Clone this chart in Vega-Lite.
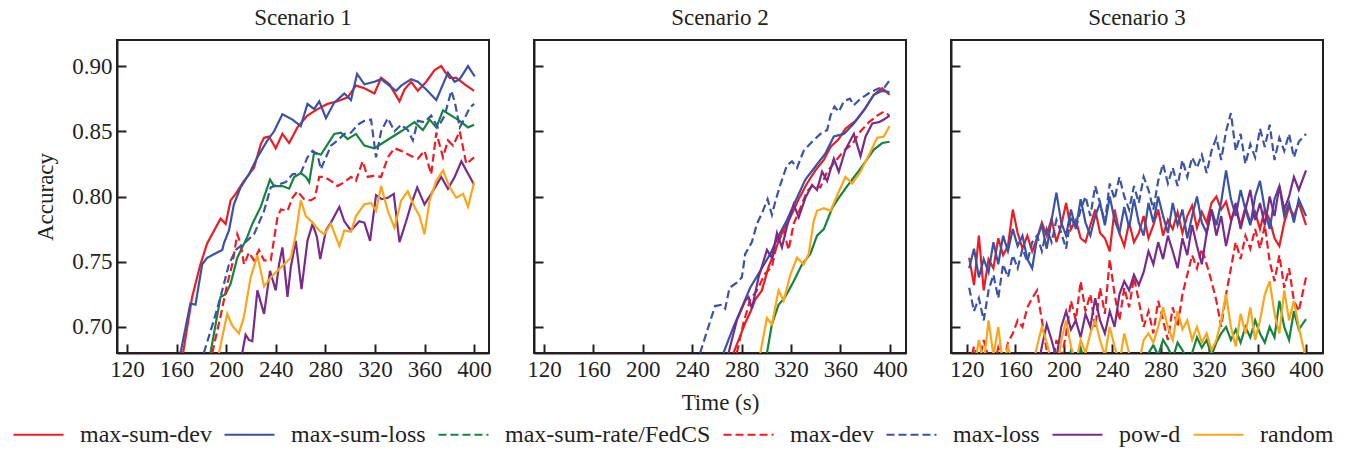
{
"$schema": "https://vega.github.io/schema/vega-lite/v6.json",
"padding": {"left": 12, "top": 6, "right": 0, "bottom": 0},
"background": "white",
"config": {
 "font": "Liberation Serif",
 "view": {"stroke": "#231f20", "strokeWidth": 2},
 "axis": {"grid": false, "domainColor": "#231f20", "domainWidth": 2, "tickColor": "#231f20", "tickWidth": 2, "tickSize": -9, "labelFontSize": 23, "labelColor": "#231f20", "titleFontSize": 23, "titleFontWeight": "normal", "titleColor": "#231f20", "labelOverlap": false, "labelFlush": false},
 "axisX": {"labelPadding": 14, "titlePadding": 10},
 "axisY": {"labelPadding": 14, "titlePadding": 14},
 "title": {"fontSize": 23, "fontWeight": "normal", "color": "#231f20", "offset": 10, "anchor": "middle"},
 "legend": {"labelFontSize": 24, "labelColor": "#231f20", "labelLimit": 0}
},
"datasets": {
 "refs": [{"y": 0.75}, {"y": 0.8}, {"y": 0.85}],
 "p1": [
{"s":"max-sum-dev","t":165.3,"y":0.680},{"s":"max-sum-dev","t":172.6,"y":0.723},{"s":"max-sum-dev","t":179.3,"y":0.748},{"s":"max-sum-dev","t":184.7,"y":0.764},{"s":"max-sum-dev","t":195.5,"y":0.783},{"s":"max-sum-dev","t":199.6,"y":0.779},{"s":"max-sum-dev","t":203.6,"y":0.797},{"s":"max-sum-dev","t":207.7,"y":0.802},{"s":"max-sum-dev","t":214.4,"y":0.812},{"s":"max-sum-dev","t":222.5,"y":0.822},{"s":"max-sum-dev","t":227.9,"y":0.840},{"s":"max-sum-dev","t":230.6,"y":0.845},{"s":"max-sum-dev","t":234.6,"y":0.846},{"s":"max-sum-dev","t":240.0,"y":0.837},{"s":"max-sum-dev","t":245.4,"y":0.848},{"s":"max-sum-dev","t":250.8,"y":0.841},{"s":"max-sum-dev","t":257.5,"y":0.853},{"s":"max-sum-dev","t":265.6,"y":0.862},{"s":"max-sum-dev","t":273.7,"y":0.867},{"s":"max-sum-dev","t":281.8,"y":0.871},{"s":"max-sum-dev","t":289.9,"y":0.873},{"s":"max-sum-dev","t":298.0,"y":0.876},{"s":"max-sum-dev","t":304.7,"y":0.885},{"s":"max-sum-dev","t":311.5,"y":0.883},{"s":"max-sum-dev","t":319.6,"y":0.879},{"s":"max-sum-dev","t":325.0,"y":0.891},{"s":"max-sum-dev","t":331.7,"y":0.886},{"s":"max-sum-dev","t":339.8,"y":0.873},{"s":"max-sum-dev","t":343.8,"y":0.882},{"s":"max-sum-dev","t":349.2,"y":0.888},{"s":"max-sum-dev","t":354.6,"y":0.881},{"s":"max-sum-dev","t":361.4,"y":0.888},{"s":"max-sum-dev","t":368.1,"y":0.897},{"s":"max-sum-dev","t":373.5,"y":0.900},{"s":"max-sum-dev","t":376.2,"y":0.896},{"s":"max-sum-dev","t":380.3,"y":0.891},{"s":"max-sum-dev","t":385.6,"y":0.891},{"s":"max-sum-dev","t":392.4,"y":0.886},{"s":"max-sum-dev","t":400.0,"y":0.881},
{"s":"max-sum-loss","t":163.2,"y":0.680},{"s":"max-sum-loss","t":171.2,"y":0.718},{"s":"max-sum-loss","t":175.3,"y":0.717},{"s":"max-sum-loss","t":180.7,"y":0.748},{"s":"max-sum-loss","t":184.7,"y":0.753},{"s":"max-sum-loss","t":192.8,"y":0.757},{"s":"max-sum-loss","t":196.9,"y":0.759},{"s":"max-sum-loss","t":198.2,"y":0.764},{"s":"max-sum-loss","t":202.3,"y":0.774},{"s":"max-sum-loss","t":206.3,"y":0.794},{"s":"max-sum-loss","t":211.7,"y":0.807},{"s":"max-sum-loss","t":218.4,"y":0.817},{"s":"max-sum-loss","t":225.2,"y":0.830},{"s":"max-sum-loss","t":233.3,"y":0.843},{"s":"max-sum-loss","t":238.7,"y":0.850},{"s":"max-sum-loss","t":245.4,"y":0.863},{"s":"max-sum-loss","t":253.5,"y":0.859},{"s":"max-sum-loss","t":260.2,"y":0.854},{"s":"max-sum-loss","t":265.6,"y":0.871},{"s":"max-sum-loss","t":271.0,"y":0.867},{"s":"max-sum-loss","t":275.1,"y":0.873},{"s":"max-sum-loss","t":280.5,"y":0.860},{"s":"max-sum-loss","t":287.2,"y":0.872},{"s":"max-sum-loss","t":295.3,"y":0.879},{"s":"max-sum-loss","t":300.7,"y":0.874},{"s":"max-sum-loss","t":305.6,"y":0.894},{"s":"max-sum-loss","t":311.5,"y":0.886},{"s":"max-sum-loss","t":319.6,"y":0.888},{"s":"max-sum-loss","t":325.0,"y":0.890},{"s":"max-sum-loss","t":330.4,"y":0.886},{"s":"max-sum-loss","t":337.1,"y":0.881},{"s":"max-sum-loss","t":341.2,"y":0.885},{"s":"max-sum-loss","t":349.2,"y":0.890},{"s":"max-sum-loss","t":354.6,"y":0.888},{"s":"max-sum-loss","t":361.4,"y":0.882},{"s":"max-sum-loss","t":369.5,"y":0.874},{"s":"max-sum-loss","t":378.9,"y":0.895},{"s":"max-sum-loss","t":384.3,"y":0.888},{"s":"max-sum-loss","t":388.4,"y":0.890},{"s":"max-sum-loss","t":395.1,"y":0.900},{"s":"max-sum-loss","t":400.5,"y":0.892},
{"s":"max-sum-rate/FedCS","t":187.4,"y":0.680},{"s":"max-sum-rate/FedCS","t":195.5,"y":0.723},{"s":"max-sum-rate/FedCS","t":199.6,"y":0.725},{"s":"max-sum-rate/FedCS","t":203.6,"y":0.733},{"s":"max-sum-rate/FedCS","t":209.0,"y":0.753},{"s":"max-sum-rate/FedCS","t":213.0,"y":0.761},{"s":"max-sum-rate/FedCS","t":217.1,"y":0.769},{"s":"max-sum-rate/FedCS","t":221.1,"y":0.779},{"s":"max-sum-rate/FedCS","t":227.9,"y":0.792},{"s":"max-sum-rate/FedCS","t":235.4,"y":0.813},{"s":"max-sum-rate/FedCS","t":238.7,"y":0.808},{"s":"max-sum-rate/FedCS","t":245.4,"y":0.808},{"s":"max-sum-rate/FedCS","t":250.8,"y":0.806},{"s":"max-sum-rate/FedCS","t":254.9,"y":0.815},{"s":"max-sum-rate/FedCS","t":260.2,"y":0.818},{"s":"max-sum-rate/FedCS","t":264.3,"y":0.815},{"s":"max-sum-rate/FedCS","t":267.0,"y":0.811},{"s":"max-sum-rate/FedCS","t":271.0,"y":0.834},{"s":"max-sum-rate/FedCS","t":276.4,"y":0.832},{"s":"max-sum-rate/FedCS","t":281.8,"y":0.840},{"s":"max-sum-rate/FedCS","t":287.2,"y":0.848},{"s":"max-sum-rate/FedCS","t":292.6,"y":0.849},{"s":"max-sum-rate/FedCS","t":298.0,"y":0.844},{"s":"max-sum-rate/FedCS","t":304.7,"y":0.848},{"s":"max-sum-rate/FedCS","t":311.5,"y":0.839},{"s":"max-sum-rate/FedCS","t":319.6,"y":0.837},{"s":"max-sum-rate/FedCS","t":341.2,"y":0.850},{"s":"max-sum-rate/FedCS","t":351.9,"y":0.857},{"s":"max-sum-rate/FedCS","t":358.7,"y":0.851},{"s":"max-sum-rate/FedCS","t":364.1,"y":0.859},{"s":"max-sum-rate/FedCS","t":369.5,"y":0.853},{"s":"max-sum-rate/FedCS","t":374.9,"y":0.866},{"s":"max-sum-rate/FedCS","t":381.6,"y":0.862},{"s":"max-sum-rate/FedCS","t":388.4,"y":0.858},{"s":"max-sum-rate/FedCS","t":395.1,"y":0.853},{"s":"max-sum-rate/FedCS","t":400.0,"y":0.855},
{"s":"max-dev","t":188.8,"y":0.680},{"s":"max-dev","t":195.5,"y":0.708},{"s":"max-dev","t":200.9,"y":0.733},{"s":"max-dev","t":205.0,"y":0.748},{"s":"max-dev","t":209.0,"y":0.771},{"s":"max-dev","t":211.7,"y":0.764},{"s":"max-dev","t":214.4,"y":0.748},{"s":"max-dev","t":218.4,"y":0.757},{"s":"max-dev","t":222.5,"y":0.751},{"s":"max-dev","t":226.5,"y":0.759},{"s":"max-dev","t":230.6,"y":0.751},{"s":"max-dev","t":236.0,"y":0.751},{"s":"max-dev","t":241.4,"y":0.784},{"s":"max-dev","t":244.1,"y":0.790},{"s":"max-dev","t":249.5,"y":0.789},{"s":"max-dev","t":253.5,"y":0.799},{"s":"max-dev","t":257.5,"y":0.804},{"s":"max-dev","t":262.9,"y":0.798},{"s":"max-dev","t":268.3,"y":0.797},{"s":"max-dev","t":271.6,"y":0.799},{"s":"max-dev","t":275.1,"y":0.815},{"s":"max-dev","t":279.1,"y":0.815},{"s":"max-dev","t":284.5,"y":0.812},{"s":"max-dev","t":289.9,"y":0.808},{"s":"max-dev","t":295.3,"y":0.811},{"s":"max-dev","t":300.7,"y":0.815},{"s":"max-dev","t":304.7,"y":0.812},{"s":"max-dev","t":310.1,"y":0.827},{"s":"max-dev","t":314.2,"y":0.815},{"s":"max-dev","t":319.6,"y":0.816},{"s":"max-dev","t":325.0,"y":0.815},{"s":"max-dev","t":330.4,"y":0.830},{"s":"max-dev","t":335.8,"y":0.837},{"s":"max-dev","t":341.2,"y":0.835},{"s":"max-dev","t":349.2,"y":0.831},{"s":"max-dev","t":354.6,"y":0.829},{"s":"max-dev","t":360.0,"y":0.835},{"s":"max-dev","t":365.4,"y":0.817},{"s":"max-dev","t":369.5,"y":0.849},{"s":"max-dev","t":374.9,"y":0.830},{"s":"max-dev","t":378.9,"y":0.843},{"s":"max-dev","t":383.0,"y":0.839},{"s":"max-dev","t":388.4,"y":0.850},{"s":"max-dev","t":393.7,"y":0.825},{"s":"max-dev","t":400.0,"y":0.830},
{"s":"max-loss","t":182.0,"y":0.680},{"s":"max-loss","t":190.1,"y":0.705},{"s":"max-loss","t":195.5,"y":0.723},{"s":"max-loss","t":202.3,"y":0.748},{"s":"max-loss","t":207.7,"y":0.759},{"s":"max-loss","t":214.4,"y":0.764},{"s":"max-loss","t":222.5,"y":0.771},{"s":"max-loss","t":230.6,"y":0.789},{"s":"max-loss","t":236.0,"y":0.807},{"s":"max-loss","t":241.4,"y":0.809},{"s":"max-loss","t":248.1,"y":0.811},{"s":"max-loss","t":253.5,"y":0.817},{"s":"max-loss","t":260.2,"y":0.818},{"s":"max-loss","t":265.6,"y":0.830},{"s":"max-loss","t":269.7,"y":0.835},{"s":"max-loss","t":273.7,"y":0.832},{"s":"max-loss","t":276.4,"y":0.821},{"s":"max-loss","t":280.5,"y":0.830},{"s":"max-loss","t":284.5,"y":0.839},{"s":"max-loss","t":289.9,"y":0.843},{"s":"max-loss","t":295.3,"y":0.848},{"s":"max-loss","t":300.7,"y":0.849},{"s":"max-loss","t":306.1,"y":0.855},{"s":"max-loss","t":311.5,"y":0.858},{"s":"max-loss","t":316.9,"y":0.859},{"s":"max-loss","t":320.9,"y":0.830},{"s":"max-loss","t":325.0,"y":0.850},{"s":"max-loss","t":330.4,"y":0.860},{"s":"max-loss","t":335.8,"y":0.850},{"s":"max-loss","t":341.2,"y":0.855},{"s":"max-loss","t":346.5,"y":0.851},{"s":"max-loss","t":350.6,"y":0.843},{"s":"max-loss","t":354.6,"y":0.858},{"s":"max-loss","t":360.0,"y":0.857},{"s":"max-loss","t":365.4,"y":0.862},{"s":"max-loss","t":370.8,"y":0.853},{"s":"max-loss","t":376.2,"y":0.862},{"s":"max-loss","t":381.6,"y":0.881},{"s":"max-loss","t":384.3,"y":0.873},{"s":"max-loss","t":388.4,"y":0.853},{"s":"max-loss","t":392.4,"y":0.860},{"s":"max-loss","t":396.4,"y":0.868},{"s":"max-loss","t":400.0,"y":0.871},
{"s":"pow-d","t":213.0,"y":0.680},{"s":"pow-d","t":215.7,"y":0.694},{"s":"pow-d","t":218.4,"y":0.690},{"s":"pow-d","t":221.1,"y":0.689},{"s":"pow-d","t":225.2,"y":0.728},{"s":"pow-d","t":230.6,"y":0.710},{"s":"pow-d","t":235.4,"y":0.743},{"s":"pow-d","t":240.0,"y":0.728},{"s":"pow-d","t":242.7,"y":0.748},{"s":"pow-d","t":245.4,"y":0.761},{"s":"pow-d","t":249.5,"y":0.723},{"s":"pow-d","t":252.2,"y":0.746},{"s":"pow-d","t":256.2,"y":0.766},{"s":"pow-d","t":260.8,"y":0.729},{"s":"pow-d","t":265.6,"y":0.766},{"s":"pow-d","t":269.7,"y":0.779},{"s":"pow-d","t":273.2,"y":0.769},{"s":"pow-d","t":275.9,"y":0.752},{"s":"pow-d","t":280.5,"y":0.774},{"s":"pow-d","t":284.5,"y":0.780},{"s":"pow-d","t":291.3,"y":0.792},{"s":"pow-d","t":295.3,"y":0.781},{"s":"pow-d","t":300.7,"y":0.774},{"s":"pow-d","t":307.4,"y":0.781},{"s":"pow-d","t":311.5,"y":0.780},{"s":"pow-d","t":316.1,"y":0.766},{"s":"pow-d","t":320.9,"y":0.801},{"s":"pow-d","t":325.5,"y":0.798},{"s":"pow-d","t":330.4,"y":0.799},{"s":"pow-d","t":335.2,"y":0.802},{"s":"pow-d","t":339.8,"y":0.765},{"s":"pow-d","t":345.2,"y":0.781},{"s":"pow-d","t":349.2,"y":0.794},{"s":"pow-d","t":354.1,"y":0.807},{"s":"pow-d","t":360.0,"y":0.794},{"s":"pow-d","t":365.4,"y":0.802},{"s":"pow-d","t":373.5,"y":0.815},{"s":"pow-d","t":378.9,"y":0.806},{"s":"pow-d","t":384.3,"y":0.815},{"s":"pow-d","t":389.7,"y":0.827},{"s":"pow-d","t":393.7,"y":0.820},{"s":"pow-d","t":400.0,"y":0.809},
{"s":"random","t":194.2,"y":0.680},{"s":"random","t":200.9,"y":0.710},{"s":"random","t":205.0,"y":0.701},{"s":"random","t":210.3,"y":0.695},{"s":"random","t":214.4,"y":0.708},{"s":"random","t":219.8,"y":0.738},{"s":"random","t":225.2,"y":0.755},{"s":"random","t":230.6,"y":0.731},{"s":"random","t":236.0,"y":0.738},{"s":"random","t":241.4,"y":0.743},{"s":"random","t":246.8,"y":0.748},{"s":"random","t":252.2,"y":0.753},{"s":"random","t":256.2,"y":0.771},{"s":"random","t":260.2,"y":0.797},{"s":"random","t":264.3,"y":0.785},{"s":"random","t":269.7,"y":0.780},{"s":"random","t":275.1,"y":0.774},{"s":"random","t":279.1,"y":0.771},{"s":"random","t":284.5,"y":0.779},{"s":"random","t":291.3,"y":0.762},{"s":"random","t":295.3,"y":0.774},{"s":"random","t":300.7,"y":0.773},{"s":"random","t":304.7,"y":0.785},{"s":"random","t":311.5,"y":0.794},{"s":"random","t":316.9,"y":0.795},{"s":"random","t":320.9,"y":0.789},{"s":"random","t":325.0,"y":0.808},{"s":"random","t":330.4,"y":0.789},{"s":"random","t":335.8,"y":0.776},{"s":"random","t":341.2,"y":0.797},{"s":"random","t":346.5,"y":0.804},{"s":"random","t":351.9,"y":0.792},{"s":"random","t":356.0,"y":0.785},{"s":"random","t":360.0,"y":0.771},{"s":"random","t":364.1,"y":0.797},{"s":"random","t":369.5,"y":0.812},{"s":"random","t":374.9,"y":0.820},{"s":"random","t":380.3,"y":0.807},{"s":"random","t":385.6,"y":0.799},{"s":"random","t":391.1,"y":0.802},{"s":"random","t":395.1,"y":0.792},{"s":"random","t":400.0,"y":0.811}
 ],
 "p2": [
{"s":"max-sum-dev","t":273.4,"y":0.680},{"s":"max-sum-dev","t":278.8,"y":0.693},{"s":"max-sum-dev","t":282.9,"y":0.703},{"s":"max-sum-dev","t":286.9,"y":0.711},{"s":"max-sum-dev","t":291.0,"y":0.721},{"s":"max-sum-dev","t":296.4,"y":0.728},{"s":"max-sum-dev","t":301.8,"y":0.746},{"s":"max-sum-dev","t":307.2,"y":0.759},{"s":"max-sum-dev","t":312.6,"y":0.772},{"s":"max-sum-dev","t":319.4,"y":0.784},{"s":"max-sum-dev","t":326.2,"y":0.798},{"s":"max-sum-dev","t":332.9,"y":0.810},{"s":"max-sum-dev","t":339.7,"y":0.820},{"s":"max-sum-dev","t":346.5,"y":0.828},{"s":"max-sum-dev","t":351.9,"y":0.838},{"s":"max-sum-dev","t":358.6,"y":0.844},{"s":"max-sum-dev","t":364.0,"y":0.852},{"s":"max-sum-dev","t":372.1,"y":0.858},{"s":"max-sum-dev","t":380.3,"y":0.868},{"s":"max-sum-dev","t":387.0,"y":0.878},{"s":"max-sum-dev","t":393.8,"y":0.883},{"s":"max-sum-dev","t":399.7,"y":0.878},
{"s":"max-sum-loss","t":265.3,"y":0.680},{"s":"max-sum-loss","t":273.4,"y":0.700},{"s":"max-sum-loss","t":280.2,"y":0.715},{"s":"max-sum-loss","t":286.9,"y":0.730},{"s":"max-sum-loss","t":295.1,"y":0.743},{"s":"max-sum-loss","t":303.2,"y":0.756},{"s":"max-sum-loss","t":309.9,"y":0.770},{"s":"max-sum-loss","t":316.7,"y":0.782},{"s":"max-sum-loss","t":324.8,"y":0.799},{"s":"max-sum-loss","t":331.6,"y":0.813},{"s":"max-sum-loss","t":339.7,"y":0.823},{"s":"max-sum-loss","t":347.8,"y":0.833},{"s":"max-sum-loss","t":354.6,"y":0.846},{"s":"max-sum-loss","t":362.7,"y":0.848},{"s":"max-sum-loss","t":370.8,"y":0.856},{"s":"max-sum-loss","t":378.9,"y":0.866},{"s":"max-sum-loss","t":387.0,"y":0.878},{"s":"max-sum-loss","t":393.8,"y":0.881},{"s":"max-sum-loss","t":399.7,"y":0.880},
{"s":"max-sum-rate/FedCS","t":300.5,"y":0.680},{"s":"max-sum-rate/FedCS","t":304.5,"y":0.702},{"s":"max-sum-rate/FedCS","t":309.9,"y":0.717},{"s":"max-sum-rate/FedCS","t":315.3,"y":0.723},{"s":"max-sum-rate/FedCS","t":322.1,"y":0.735},{"s":"max-sum-rate/FedCS","t":328.9,"y":0.748},{"s":"max-sum-rate/FedCS","t":335.6,"y":0.756},{"s":"max-sum-rate/FedCS","t":341.0,"y":0.770},{"s":"max-sum-rate/FedCS","t":346.5,"y":0.775},{"s":"max-sum-rate/FedCS","t":353.2,"y":0.791},{"s":"max-sum-rate/FedCS","t":358.6,"y":0.799},{"s":"max-sum-rate/FedCS","t":365.4,"y":0.808},{"s":"max-sum-rate/FedCS","t":373.5,"y":0.818},{"s":"max-sum-rate/FedCS","t":380.3,"y":0.827},{"s":"max-sum-rate/FedCS","t":387.0,"y":0.836},{"s":"max-sum-rate/FedCS","t":393.8,"y":0.841},{"s":"max-sum-rate/FedCS","t":399.7,"y":0.842},
{"s":"max-dev","t":276.1,"y":0.680},{"s":"max-dev","t":281.5,"y":0.703},{"s":"max-dev","t":286.9,"y":0.721},{"s":"max-dev","t":292.4,"y":0.728},{"s":"max-dev","t":299.1,"y":0.741},{"s":"max-dev","t":304.5,"y":0.746},{"s":"max-dev","t":308.6,"y":0.764},{"s":"max-dev","t":314.0,"y":0.774},{"s":"max-dev","t":318.0,"y":0.759},{"s":"max-dev","t":322.1,"y":0.779},{"s":"max-dev","t":327.5,"y":0.791},{"s":"max-dev","t":332.9,"y":0.804},{"s":"max-dev","t":338.3,"y":0.809},{"s":"max-dev","t":343.7,"y":0.807},{"s":"max-dev","t":349.2,"y":0.819},{"s":"max-dev","t":355.9,"y":0.827},{"s":"max-dev","t":362.7,"y":0.835},{"s":"max-dev","t":369.4,"y":0.840},{"s":"max-dev","t":376.2,"y":0.850},{"s":"max-dev","t":383.0,"y":0.857},{"s":"max-dev","t":389.7,"y":0.862},{"s":"max-dev","t":395.1,"y":0.865},{"s":"max-dev","t":399.7,"y":0.862},
{"s":"max-loss","t":246.4,"y":0.680},{"s":"max-loss","t":253.1,"y":0.700},{"s":"max-loss","t":258.5,"y":0.716},{"s":"max-loss","t":264.0,"y":0.717},{"s":"max-loss","t":266.7,"y":0.714},{"s":"max-loss","t":270.2,"y":0.730},{"s":"max-loss","t":276.1,"y":0.734},{"s":"max-loss","t":280.2,"y":0.738},{"s":"max-loss","t":282.9,"y":0.756},{"s":"max-loss","t":288.3,"y":0.765},{"s":"max-loss","t":292.4,"y":0.779},{"s":"max-loss","t":296.4,"y":0.787},{"s":"max-loss","t":301.0,"y":0.798},{"s":"max-loss","t":304.5,"y":0.786},{"s":"max-loss","t":307.2,"y":0.796},{"s":"max-loss","t":311.3,"y":0.809},{"s":"max-loss","t":316.7,"y":0.824},{"s":"max-loss","t":320.8,"y":0.827},{"s":"max-loss","t":324.8,"y":0.822},{"s":"max-loss","t":330.2,"y":0.835},{"s":"max-loss","t":337.0,"y":0.842},{"s":"max-loss","t":343.8,"y":0.848},{"s":"max-loss","t":349.2,"y":0.851},{"s":"max-loss","t":351.9,"y":0.862},{"s":"max-loss","t":355.1,"y":0.869},{"s":"max-loss","t":358.6,"y":0.865},{"s":"max-loss","t":362.7,"y":0.873},{"s":"max-loss","t":367.6,"y":0.875},{"s":"max-loss","t":370.8,"y":0.870},{"s":"max-loss","t":376.2,"y":0.875},{"s":"max-loss","t":384.3,"y":0.880},{"s":"max-loss","t":391.1,"y":0.883},{"s":"max-loss","t":395.1,"y":0.883},{"s":"max-loss","t":399.7,"y":0.889},
{"s":"pow-d","t":269.4,"y":0.680},{"s":"pow-d","t":276.1,"y":0.705},{"s":"pow-d","t":282.9,"y":0.720},{"s":"pow-d","t":285.6,"y":0.723},{"s":"pow-d","t":288.3,"y":0.714},{"s":"pow-d","t":293.7,"y":0.738},{"s":"pow-d","t":300.5,"y":0.759},{"s":"pow-d","t":304.5,"y":0.753},{"s":"pow-d","t":308.6,"y":0.772},{"s":"pow-d","t":312.6,"y":0.761},{"s":"pow-d","t":316.7,"y":0.777},{"s":"pow-d","t":322.1,"y":0.794},{"s":"pow-d","t":326.2,"y":0.784},{"s":"pow-d","t":331.6,"y":0.799},{"s":"pow-d","t":337.0,"y":0.809},{"s":"pow-d","t":341.0,"y":0.805},{"s":"pow-d","t":345.1,"y":0.819},{"s":"pow-d","t":349.2,"y":0.812},{"s":"pow-d","t":354.6,"y":0.829},{"s":"pow-d","t":358.6,"y":0.819},{"s":"pow-d","t":364.0,"y":0.836},{"s":"pow-d","t":370.8,"y":0.848},{"s":"pow-d","t":376.2,"y":0.831},{"s":"pow-d","t":380.3,"y":0.846},{"s":"pow-d","t":385.7,"y":0.856},{"s":"pow-d","t":391.1,"y":0.857},{"s":"pow-d","t":395.1,"y":0.859},{"s":"pow-d","t":399.7,"y":0.862},
{"s":"random","t":295.1,"y":0.680},{"s":"random","t":300.5,"y":0.707},{"s":"random","t":304.5,"y":0.702},{"s":"random","t":309.9,"y":0.728},{"s":"random","t":314.0,"y":0.720},{"s":"random","t":319.4,"y":0.740},{"s":"random","t":324.8,"y":0.753},{"s":"random","t":330.2,"y":0.748},{"s":"random","t":334.3,"y":0.756},{"s":"random","t":338.3,"y":0.781},{"s":"random","t":341.0,"y":0.789},{"s":"random","t":346.5,"y":0.791},{"s":"random","t":351.9,"y":0.789},{"s":"random","t":357.3,"y":0.801},{"s":"random","t":364.0,"y":0.815},{"s":"random","t":369.4,"y":0.810},{"s":"random","t":376.2,"y":0.819},{"s":"random","t":383.0,"y":0.832},{"s":"random","t":389.7,"y":0.845},{"s":"random","t":395.1,"y":0.846},{"s":"random","t":399.7,"y":0.854}
 ],
 "p3": [
{"s":"max-sum-dev","t":122,"y":0.753},{"s":"max-sum-dev","t":126,"y":0.732},{"s":"max-sum-dev","t":130,"y":0.770},{"s":"max-sum-dev","t":134,"y":0.728},{"s":"max-sum-dev","t":138,"y":0.752},{"s":"max-sum-dev","t":142,"y":0.745},{"s":"max-sum-dev","t":146,"y":0.768},{"s":"max-sum-dev","t":150,"y":0.755},{"s":"max-sum-dev","t":154,"y":0.762},{"s":"max-sum-dev","t":158,"y":0.790},{"s":"max-sum-dev","t":162,"y":0.772},{"s":"max-sum-dev","t":166,"y":0.760},{"s":"max-sum-dev","t":170,"y":0.770},{"s":"max-sum-dev","t":174,"y":0.758},{"s":"max-sum-dev","t":178,"y":0.768},{"s":"max-sum-dev","t":182,"y":0.780},{"s":"max-sum-dev","t":186,"y":0.770},{"s":"max-sum-dev","t":190,"y":0.783},{"s":"max-sum-dev","t":194,"y":0.765},{"s":"max-sum-dev","t":198,"y":0.778},{"s":"max-sum-dev","t":202,"y":0.795},{"s":"max-sum-dev","t":206,"y":0.775},{"s":"max-sum-dev","t":210,"y":0.782},{"s":"max-sum-dev","t":214,"y":0.768},{"s":"max-sum-dev","t":218,"y":0.765},{"s":"max-sum-dev","t":222,"y":0.778},{"s":"max-sum-dev","t":226,"y":0.790},{"s":"max-sum-dev","t":230,"y":0.772},{"s":"max-sum-dev","t":234,"y":0.768},{"s":"max-sum-dev","t":238,"y":0.758},{"s":"max-sum-dev","t":242,"y":0.790},{"s":"max-sum-dev","t":246,"y":0.772},{"s":"max-sum-dev","t":250,"y":0.762},{"s":"max-sum-dev","t":254,"y":0.780},{"s":"max-sum-dev","t":258,"y":0.765},{"s":"max-sum-dev","t":262,"y":0.772},{"s":"max-sum-dev","t":266,"y":0.785},{"s":"max-sum-dev","t":270,"y":0.768},{"s":"max-sum-dev","t":274,"y":0.778},{"s":"max-sum-dev","t":278,"y":0.790},{"s":"max-sum-dev","t":282,"y":0.770},{"s":"max-sum-dev","t":286,"y":0.782},{"s":"max-sum-dev","t":290,"y":0.775},{"s":"max-sum-dev","t":294,"y":0.788},{"s":"max-sum-dev","t":298,"y":0.772},{"s":"max-sum-dev","t":302,"y":0.785},{"s":"max-sum-dev","t":306,"y":0.793},{"s":"max-sum-dev","t":310,"y":0.776},{"s":"max-sum-dev","t":314,"y":0.788},{"s":"max-sum-dev","t":318,"y":0.780},{"s":"max-sum-dev","t":322,"y":0.795},{"s":"max-sum-dev","t":326,"y":0.800},{"s":"max-sum-dev","t":330,"y":0.790},{"s":"max-sum-dev","t":334,"y":0.796},{"s":"max-sum-dev","t":338,"y":0.782},{"s":"max-sum-dev","t":342,"y":0.790},{"s":"max-sum-dev","t":346,"y":0.778},{"s":"max-sum-dev","t":350,"y":0.792},{"s":"max-sum-dev","t":354,"y":0.780},{"s":"max-sum-dev","t":358,"y":0.788},{"s":"max-sum-dev","t":362,"y":0.775},{"s":"max-sum-dev","t":366,"y":0.790},{"s":"max-sum-dev","t":370,"y":0.782},{"s":"max-sum-dev","t":374,"y":0.768},{"s":"max-sum-dev","t":378,"y":0.762},{"s":"max-sum-dev","t":382,"y":0.780},{"s":"max-sum-dev","t":386,"y":0.792},{"s":"max-sum-dev","t":390,"y":0.785},{"s":"max-sum-dev","t":394,"y":0.795},{"s":"max-sum-dev","t":400,"y":0.778},
{"s":"max-sum-loss","t":122,"y":0.745},{"s":"max-sum-loss","t":126,"y":0.760},{"s":"max-sum-loss","t":130,"y":0.738},{"s":"max-sum-loss","t":134,"y":0.752},{"s":"max-sum-loss","t":138,"y":0.742},{"s":"max-sum-loss","t":142,"y":0.765},{"s":"max-sum-loss","t":146,"y":0.748},{"s":"max-sum-loss","t":150,"y":0.770},{"s":"max-sum-loss","t":154,"y":0.758},{"s":"max-sum-loss","t":158,"y":0.775},{"s":"max-sum-loss","t":162,"y":0.762},{"s":"max-sum-loss","t":166,"y":0.770},{"s":"max-sum-loss","t":170,"y":0.752},{"s":"max-sum-loss","t":174,"y":0.745},{"s":"max-sum-loss","t":178,"y":0.768},{"s":"max-sum-loss","t":182,"y":0.778},{"s":"max-sum-loss","t":186,"y":0.760},{"s":"max-sum-loss","t":190,"y":0.782},{"s":"max-sum-loss","t":194,"y":0.803},{"s":"max-sum-loss","t":198,"y":0.780},{"s":"max-sum-loss","t":202,"y":0.770},{"s":"max-sum-loss","t":206,"y":0.790},{"s":"max-sum-loss","t":210,"y":0.775},{"s":"max-sum-loss","t":214,"y":0.798},{"s":"max-sum-loss","t":218,"y":0.780},{"s":"max-sum-loss","t":222,"y":0.770},{"s":"max-sum-loss","t":226,"y":0.785},{"s":"max-sum-loss","t":230,"y":0.795},{"s":"max-sum-loss","t":234,"y":0.778},{"s":"max-sum-loss","t":238,"y":0.800},{"s":"max-sum-loss","t":242,"y":0.782},{"s":"max-sum-loss","t":246,"y":0.772},{"s":"max-sum-loss","t":250,"y":0.792},{"s":"max-sum-loss","t":254,"y":0.776},{"s":"max-sum-loss","t":258,"y":0.798},{"s":"max-sum-loss","t":262,"y":0.780},{"s":"max-sum-loss","t":266,"y":0.770},{"s":"max-sum-loss","t":270,"y":0.795},{"s":"max-sum-loss","t":274,"y":0.780},{"s":"max-sum-loss","t":278,"y":0.800},{"s":"max-sum-loss","t":282,"y":0.785},{"s":"max-sum-loss","t":286,"y":0.772},{"s":"max-sum-loss","t":290,"y":0.795},{"s":"max-sum-loss","t":294,"y":0.778},{"s":"max-sum-loss","t":298,"y":0.790},{"s":"max-sum-loss","t":302,"y":0.768},{"s":"max-sum-loss","t":306,"y":0.785},{"s":"max-sum-loss","t":310,"y":0.800},{"s":"max-sum-loss","t":314,"y":0.780},{"s":"max-sum-loss","t":318,"y":0.772},{"s":"max-sum-loss","t":322,"y":0.790},{"s":"max-sum-loss","t":326,"y":0.778},{"s":"max-sum-loss","t":330,"y":0.796},{"s":"max-sum-loss","t":334,"y":0.820},{"s":"max-sum-loss","t":338,"y":0.798},{"s":"max-sum-loss","t":342,"y":0.785},{"s":"max-sum-loss","t":346,"y":0.805},{"s":"max-sum-loss","t":350,"y":0.790},{"s":"max-sum-loss","t":354,"y":0.778},{"s":"max-sum-loss","t":358,"y":0.800},{"s":"max-sum-loss","t":362,"y":0.812},{"s":"max-sum-loss","t":366,"y":0.790},{"s":"max-sum-loss","t":370,"y":0.775},{"s":"max-sum-loss","t":374,"y":0.798},{"s":"max-sum-loss","t":378,"y":0.808},{"s":"max-sum-loss","t":382,"y":0.785},{"s":"max-sum-loss","t":386,"y":0.795},{"s":"max-sum-loss","t":390,"y":0.780},{"s":"max-sum-loss","t":394,"y":0.798},{"s":"max-sum-loss","t":400,"y":0.785},
{"s":"max-sum-rate/FedCS","t":190,"y":0.665},{"s":"max-sum-rate/FedCS","t":194,"y":0.660},{"s":"max-sum-rate/FedCS","t":198,"y":0.670},{"s":"max-sum-rate/FedCS","t":202,"y":0.665},{"s":"max-sum-rate/FedCS","t":206,"y":0.682},{"s":"max-sum-rate/FedCS","t":210,"y":0.672},{"s":"max-sum-rate/FedCS","t":214,"y":0.684},{"s":"max-sum-rate/FedCS","t":218,"y":0.670},{"s":"max-sum-rate/FedCS","t":222,"y":0.675},{"s":"max-sum-rate/FedCS","t":226,"y":0.668},{"s":"max-sum-rate/FedCS","t":230,"y":0.672},{"s":"max-sum-rate/FedCS","t":234,"y":0.665},{"s":"max-sum-rate/FedCS","t":238,"y":0.675},{"s":"max-sum-rate/FedCS","t":242,"y":0.668},{"s":"max-sum-rate/FedCS","t":246,"y":0.672},{"s":"max-sum-rate/FedCS","t":250,"y":0.670},{"s":"max-sum-rate/FedCS","t":254,"y":0.665},{"s":"max-sum-rate/FedCS","t":258,"y":0.675},{"s":"max-sum-rate/FedCS","t":262,"y":0.678},{"s":"max-sum-rate/FedCS","t":266,"y":0.670},{"s":"max-sum-rate/FedCS","t":270,"y":0.680},{"s":"max-sum-rate/FedCS","t":274,"y":0.686},{"s":"max-sum-rate/FedCS","t":278,"y":0.678},{"s":"max-sum-rate/FedCS","t":282,"y":0.690},{"s":"max-sum-rate/FedCS","t":286,"y":0.684},{"s":"max-sum-rate/FedCS","t":290,"y":0.676},{"s":"max-sum-rate/FedCS","t":294,"y":0.688},{"s":"max-sum-rate/FedCS","t":298,"y":0.682},{"s":"max-sum-rate/FedCS","t":302,"y":0.675},{"s":"max-sum-rate/FedCS","t":306,"y":0.680},{"s":"max-sum-rate/FedCS","t":310,"y":0.692},{"s":"max-sum-rate/FedCS","t":314,"y":0.684},{"s":"max-sum-rate/FedCS","t":318,"y":0.690},{"s":"max-sum-rate/FedCS","t":322,"y":0.678},{"s":"max-sum-rate/FedCS","t":326,"y":0.688},{"s":"max-sum-rate/FedCS","t":330,"y":0.695},{"s":"max-sum-rate/FedCS","t":334,"y":0.700},{"s":"max-sum-rate/FedCS","t":338,"y":0.690},{"s":"max-sum-rate/FedCS","t":342,"y":0.698},{"s":"max-sum-rate/FedCS","t":346,"y":0.688},{"s":"max-sum-rate/FedCS","t":350,"y":0.700},{"s":"max-sum-rate/FedCS","t":354,"y":0.692},{"s":"max-sum-rate/FedCS","t":358,"y":0.705},{"s":"max-sum-rate/FedCS","t":362,"y":0.695},{"s":"max-sum-rate/FedCS","t":366,"y":0.688},{"s":"max-sum-rate/FedCS","t":370,"y":0.700},{"s":"max-sum-rate/FedCS","t":374,"y":0.692},{"s":"max-sum-rate/FedCS","t":378,"y":0.720},{"s":"max-sum-rate/FedCS","t":382,"y":0.700},{"s":"max-sum-rate/FedCS","t":386,"y":0.690},{"s":"max-sum-rate/FedCS","t":390,"y":0.712},{"s":"max-sum-rate/FedCS","t":394,"y":0.698},{"s":"max-sum-rate/FedCS","t":400,"y":0.706},
{"s":"max-dev","t":122,"y":0.670},{"s":"max-dev","t":126,"y":0.685},{"s":"max-dev","t":130,"y":0.672},{"s":"max-dev","t":134,"y":0.690},{"s":"max-dev","t":138,"y":0.676},{"s":"max-dev","t":142,"y":0.668},{"s":"max-dev","t":146,"y":0.684},{"s":"max-dev","t":150,"y":0.672},{"s":"max-dev","t":154,"y":0.688},{"s":"max-dev","t":158,"y":0.695},{"s":"max-dev","t":162,"y":0.705},{"s":"max-dev","t":166,"y":0.700},{"s":"max-dev","t":170,"y":0.715},{"s":"max-dev","t":174,"y":0.722},{"s":"max-dev","t":178,"y":0.728},{"s":"max-dev","t":182,"y":0.705},{"s":"max-dev","t":186,"y":0.682},{"s":"max-dev","t":190,"y":0.665},{"s":"max-dev","t":194,"y":0.690},{"s":"max-dev","t":198,"y":0.675},{"s":"max-dev","t":202,"y":0.695},{"s":"max-dev","t":206,"y":0.720},{"s":"max-dev","t":210,"y":0.705},{"s":"max-dev","t":214,"y":0.735},{"s":"max-dev","t":218,"y":0.712},{"s":"max-dev","t":222,"y":0.725},{"s":"max-dev","t":226,"y":0.700},{"s":"max-dev","t":230,"y":0.730},{"s":"max-dev","t":234,"y":0.710},{"s":"max-dev","t":238,"y":0.752},{"s":"max-dev","t":242,"y":0.725},{"s":"max-dev","t":246,"y":0.705},{"s":"max-dev","t":250,"y":0.730},{"s":"max-dev","t":254,"y":0.715},{"s":"max-dev","t":258,"y":0.738},{"s":"max-dev","t":262,"y":0.720},{"s":"max-dev","t":266,"y":0.700},{"s":"max-dev","t":270,"y":0.712},{"s":"max-dev","t":274,"y":0.695},{"s":"max-dev","t":278,"y":0.720},{"s":"max-dev","t":282,"y":0.705},{"s":"max-dev","t":286,"y":0.690},{"s":"max-dev","t":290,"y":0.715},{"s":"max-dev","t":294,"y":0.700},{"s":"max-dev","t":298,"y":0.725},{"s":"max-dev","t":302,"y":0.740},{"s":"max-dev","t":306,"y":0.755},{"s":"max-dev","t":310,"y":0.745},{"s":"max-dev","t":314,"y":0.760},{"s":"max-dev","t":318,"y":0.748},{"s":"max-dev","t":322,"y":0.735},{"s":"max-dev","t":326,"y":0.720},{"s":"max-dev","t":330,"y":0.700},{"s":"max-dev","t":334,"y":0.725},{"s":"max-dev","t":338,"y":0.745},{"s":"max-dev","t":342,"y":0.765},{"s":"max-dev","t":346,"y":0.752},{"s":"max-dev","t":350,"y":0.770},{"s":"max-dev","t":354,"y":0.760},{"s":"max-dev","t":358,"y":0.775},{"s":"max-dev","t":362,"y":0.760},{"s":"max-dev","t":366,"y":0.778},{"s":"max-dev","t":370,"y":0.750},{"s":"max-dev","t":374,"y":0.735},{"s":"max-dev","t":378,"y":0.755},{"s":"max-dev","t":382,"y":0.730},{"s":"max-dev","t":386,"y":0.745},{"s":"max-dev","t":390,"y":0.720},{"s":"max-dev","t":394,"y":0.712},{"s":"max-dev","t":400,"y":0.738},
{"s":"max-loss","t":122,"y":0.730},{"s":"max-loss","t":126,"y":0.712},{"s":"max-loss","t":130,"y":0.722},{"s":"max-loss","t":134,"y":0.705},{"s":"max-loss","t":138,"y":0.728},{"s":"max-loss","t":142,"y":0.740},{"s":"max-loss","t":146,"y":0.722},{"s":"max-loss","t":150,"y":0.748},{"s":"max-loss","t":154,"y":0.738},{"s":"max-loss","t":158,"y":0.755},{"s":"max-loss","t":162,"y":0.745},{"s":"max-loss","t":166,"y":0.760},{"s":"max-loss","t":170,"y":0.750},{"s":"max-loss","t":174,"y":0.765},{"s":"max-loss","t":178,"y":0.770},{"s":"max-loss","t":182,"y":0.758},{"s":"max-loss","t":186,"y":0.775},{"s":"max-loss","t":190,"y":0.765},{"s":"max-loss","t":194,"y":0.782},{"s":"max-loss","t":198,"y":0.772},{"s":"max-loss","t":202,"y":0.760},{"s":"max-loss","t":206,"y":0.785},{"s":"max-loss","t":210,"y":0.775},{"s":"max-loss","t":214,"y":0.790},{"s":"max-loss","t":218,"y":0.800},{"s":"max-loss","t":222,"y":0.785},{"s":"max-loss","t":226,"y":0.808},{"s":"max-loss","t":230,"y":0.795},{"s":"max-loss","t":234,"y":0.780},{"s":"max-loss","t":238,"y":0.810},{"s":"max-loss","t":242,"y":0.798},{"s":"max-loss","t":246,"y":0.815},{"s":"max-loss","t":250,"y":0.800},{"s":"max-loss","t":254,"y":0.790},{"s":"max-loss","t":258,"y":0.808},{"s":"max-loss","t":262,"y":0.795},{"s":"max-loss","t":266,"y":0.815},{"s":"max-loss","t":270,"y":0.805},{"s":"max-loss","t":274,"y":0.790},{"s":"max-loss","t":278,"y":0.812},{"s":"max-loss","t":282,"y":0.825},{"s":"max-loss","t":286,"y":0.810},{"s":"max-loss","t":290,"y":0.822},{"s":"max-loss","t":294,"y":0.808},{"s":"max-loss","t":298,"y":0.828},{"s":"max-loss","t":302,"y":0.815},{"s":"max-loss","t":306,"y":0.830},{"s":"max-loss","t":310,"y":0.822},{"s":"max-loss","t":314,"y":0.832},{"s":"max-loss","t":318,"y":0.818},{"s":"max-loss","t":322,"y":0.835},{"s":"max-loss","t":326,"y":0.845},{"s":"max-loss","t":330,"y":0.828},{"s":"max-loss","t":334,"y":0.850},{"s":"max-loss","t":338,"y":0.864},{"s":"max-loss","t":342,"y":0.835},{"s":"max-loss","t":346,"y":0.848},{"s":"max-loss","t":350,"y":0.825},{"s":"max-loss","t":354,"y":0.840},{"s":"max-loss","t":358,"y":0.830},{"s":"max-loss","t":362,"y":0.852},{"s":"max-loss","t":366,"y":0.838},{"s":"max-loss","t":370,"y":0.855},{"s":"max-loss","t":374,"y":0.828},{"s":"max-loss","t":378,"y":0.845},{"s":"max-loss","t":382,"y":0.835},{"s":"max-loss","t":386,"y":0.848},{"s":"max-loss","t":390,"y":0.830},{"s":"max-loss","t":394,"y":0.842},{"s":"max-loss","t":400,"y":0.848},
{"s":"pow-d","t":174,"y":0.670},{"s":"pow-d","t":178,"y":0.665},{"s":"pow-d","t":182,"y":0.685},{"s":"pow-d","t":186,"y":0.702},{"s":"pow-d","t":190,"y":0.690},{"s":"pow-d","t":194,"y":0.676},{"s":"pow-d","t":198,"y":0.700},{"s":"pow-d","t":202,"y":0.712},{"s":"pow-d","t":206,"y":0.698},{"s":"pow-d","t":210,"y":0.705},{"s":"pow-d","t":214,"y":0.692},{"s":"pow-d","t":218,"y":0.710},{"s":"pow-d","t":222,"y":0.700},{"s":"pow-d","t":226,"y":0.722},{"s":"pow-d","t":230,"y":0.705},{"s":"pow-d","t":234,"y":0.695},{"s":"pow-d","t":238,"y":0.712},{"s":"pow-d","t":242,"y":0.700},{"s":"pow-d","t":246,"y":0.725},{"s":"pow-d","t":250,"y":0.735},{"s":"pow-d","t":254,"y":0.728},{"s":"pow-d","t":258,"y":0.740},{"s":"pow-d","t":262,"y":0.732},{"s":"pow-d","t":266,"y":0.742},{"s":"pow-d","t":270,"y":0.758},{"s":"pow-d","t":274,"y":0.748},{"s":"pow-d","t":278,"y":0.765},{"s":"pow-d","t":282,"y":0.752},{"s":"pow-d","t":286,"y":0.770},{"s":"pow-d","t":290,"y":0.758},{"s":"pow-d","t":294,"y":0.745},{"s":"pow-d","t":298,"y":0.768},{"s":"pow-d","t":302,"y":0.755},{"s":"pow-d","t":306,"y":0.778},{"s":"pow-d","t":310,"y":0.762},{"s":"pow-d","t":314,"y":0.748},{"s":"pow-d","t":318,"y":0.772},{"s":"pow-d","t":322,"y":0.790},{"s":"pow-d","t":326,"y":0.770},{"s":"pow-d","t":330,"y":0.785},{"s":"pow-d","t":334,"y":0.762},{"s":"pow-d","t":338,"y":0.780},{"s":"pow-d","t":342,"y":0.795},{"s":"pow-d","t":346,"y":0.775},{"s":"pow-d","t":350,"y":0.790},{"s":"pow-d","t":354,"y":0.805},{"s":"pow-d","t":358,"y":0.782},{"s":"pow-d","t":362,"y":0.795},{"s":"pow-d","t":366,"y":0.778},{"s":"pow-d","t":370,"y":0.800},{"s":"pow-d","t":374,"y":0.785},{"s":"pow-d","t":378,"y":0.808},{"s":"pow-d","t":382,"y":0.790},{"s":"pow-d","t":386,"y":0.800},{"s":"pow-d","t":390,"y":0.815},{"s":"pow-d","t":394,"y":0.805},{"s":"pow-d","t":400,"y":0.820},
{"s":"random","t":122,"y":0.675},{"s":"random","t":126,"y":0.668},{"s":"random","t":130,"y":0.690},{"s":"random","t":134,"y":0.672},{"s":"random","t":138,"y":0.705},{"s":"random","t":142,"y":0.678},{"s":"random","t":146,"y":0.700},{"s":"random","t":150,"y":0.670},{"s":"random","t":154,"y":0.685},{"s":"random","t":158,"y":0.672},{"s":"random","t":162,"y":0.665},{"s":"random","t":166,"y":0.675},{"s":"random","t":170,"y":0.660},{"s":"random","t":174,"y":0.670},{"s":"random","t":178,"y":0.685},{"s":"random","t":182,"y":0.700},{"s":"random","t":186,"y":0.688},{"s":"random","t":190,"y":0.672},{"s":"random","t":194,"y":0.665},{"s":"random","t":198,"y":0.690},{"s":"random","t":202,"y":0.705},{"s":"random","t":206,"y":0.685},{"s":"random","t":210,"y":0.672},{"s":"random","t":214,"y":0.690},{"s":"random","t":218,"y":0.680},{"s":"random","t":222,"y":0.695},{"s":"random","t":226,"y":0.705},{"s":"random","t":230,"y":0.690},{"s":"random","t":234,"y":0.678},{"s":"random","t":238,"y":0.700},{"s":"random","t":242,"y":0.685},{"s":"random","t":246,"y":0.672},{"s":"random","t":250,"y":0.695},{"s":"random","t":254,"y":0.680},{"s":"random","t":258,"y":0.665},{"s":"random","t":262,"y":0.672},{"s":"random","t":266,"y":0.690},{"s":"random","t":270,"y":0.695},{"s":"random","t":274,"y":0.688},{"s":"random","t":278,"y":0.700},{"s":"random","t":282,"y":0.715},{"s":"random","t":286,"y":0.700},{"s":"random","t":290,"y":0.690},{"s":"random","t":294,"y":0.712},{"s":"random","t":298,"y":0.698},{"s":"random","t":302,"y":0.705},{"s":"random","t":306,"y":0.690},{"s":"random","t":310,"y":0.700},{"s":"random","t":314,"y":0.688},{"s":"random","t":318,"y":0.695},{"s":"random","t":322,"y":0.682},{"s":"random","t":326,"y":0.690},{"s":"random","t":330,"y":0.705},{"s":"random","t":334,"y":0.725},{"s":"random","t":338,"y":0.700},{"s":"random","t":342,"y":0.685},{"s":"random","t":346,"y":0.710},{"s":"random","t":350,"y":0.695},{"s":"random","t":354,"y":0.715},{"s":"random","t":358,"y":0.690},{"s":"random","t":362,"y":0.705},{"s":"random","t":366,"y":0.725},{"s":"random","t":370,"y":0.735},{"s":"random","t":374,"y":0.710},{"s":"random","t":378,"y":0.695},{"s":"random","t":382,"y":0.728},{"s":"random","t":386,"y":0.705},{"s":"random","t":390,"y":0.720},{"s":"random","t":394,"y":0.700},{"s":"random","t":400,"y":0.675}
 ]
},
"spacing": 45,
"bounds": "flush",
"resolve": {"scale": {"color": "shared"}},
"hconcat": [
 {"width": 372, "height": 313, "title": "Scenario 1",
  "encoding": {
   "x": {"field": "t", "type": "quantitative", "scale": {"domain": [112, 412], "nice": false, "zero": false}, "axis": {"title": null, "values": [120,160,200,240,280,320,360,400]}},
   "y": {"field": "y", "type": "quantitative", "scale": {"domain": [0.68, 0.92], "nice": false, "zero": false}, "axis": {"title": "Accuracy", "values": [0.7,0.75,0.8,0.85,0.9], "format": ".2f"}}
  },
  "layer": [
   {"data": {"name": "p1"}, "transform": [{"filter": {"field": "s", "oneOf": ["max-sum-dev","max-sum-loss","max-sum-rate/FedCS"]}}], "mark": {"type": "line", "clip": true, "strokeWidth": 2.2},
    "encoding": {"color": {"field": "s", "type": "nominal", "scale": {"domain": ["max-sum-dev","max-sum-loss","max-sum-rate/FedCS","max-dev","max-loss","pow-d","random"], "range": ["#ed1c24","#3a53a4","#15843c","#ed1c24","#3a53a4","#772b8a","#faa61a"]},
      "legend": {"title": null, "orient": "none", "legendX": -105, "legendY": 368, "direction": "horizontal", "columns": 7, "symbolType": "stroke", "symbolSize": 2500, "symbolStrokeWidth": 2.2, "labelFontSize": 24, "labelOffset": 15, "labelLimit": 0, "columnPadding": 8, "padding": 0,
       "encode": {"symbols": {"update": {"strokeDash": {"signal": "indexof(['max-sum-rate/FedCS','max-dev','max-loss'], datum.value) >= 0 ? [8,4] : [1,0]"}}}}}}}},
   {"data": {"name": "p1"}, "transform": [{"filter": {"field": "s", "oneOf": ["max-dev","max-loss"]}}], "mark": {"type": "line", "clip": true, "strokeWidth": 2.2, "strokeDash": [8, 4]},
    "encoding": {"color": {"field": "s", "type": "nominal"}}},
   {"data": {"name": "p1"}, "transform": [{"filter": {"field": "s", "oneOf": ["pow-d","random"]}}], "mark": {"type": "line", "clip": true, "strokeWidth": 2.2},
    "encoding": {"color": {"field": "s", "type": "nominal"}}},
   {"data": {"name": "refs"}, "mark": {"type": "rule", "color": "#000000", "strokeWidth": 2, "strokeDash": [19, 18.5]},
    "encoding": {"y": {"field": "y", "type": "quantitative"}}}
  ]},
 {"width": 372, "height": 313, "title": "Scenario 2",
  "encoding": {
   "x": {"field": "t", "type": "quantitative", "scale": {"domain": [112, 413], "nice": false, "zero": false}, "axis": {"title": "Time (s)", "values": [120,160,200,240,280,320,360,400]}},
   "y": {"field": "y", "type": "quantitative", "scale": {"domain": [0.68, 0.92], "nice": false, "zero": false}, "axis": {"title": null, "labels": false, "values": [0.7,0.75,0.8,0.85,0.9]}}
  },
  "layer": [
   {"data": {"name": "p2"}, "transform": [{"filter": {"field": "s", "oneOf": ["max-sum-dev","max-sum-loss","max-sum-rate/FedCS"]}}], "mark": {"type": "line", "clip": true, "strokeWidth": 2.2},
    "encoding": {"color": {"field": "s", "type": "nominal"}}},
   {"data": {"name": "p2"}, "transform": [{"filter": {"field": "s", "oneOf": ["max-dev","max-loss"]}}], "mark": {"type": "line", "clip": true, "strokeWidth": 2.2, "strokeDash": [8, 4]},
    "encoding": {"color": {"field": "s", "type": "nominal"}}},
   {"data": {"name": "p2"}, "transform": [{"filter": {"field": "s", "oneOf": ["pow-d","random"]}}], "mark": {"type": "line", "clip": true, "strokeWidth": 2.2},
    "encoding": {"color": {"field": "s", "type": "nominal"}}},
   {"data": {"name": "refs"}, "mark": {"type": "rule", "color": "#000000", "strokeWidth": 2, "strokeDash": [19, 18.5]},
    "encoding": {"y": {"field": "y", "type": "quantitative"}}}
  ]},
 {"width": 372, "height": 313, "title": "Scenario 3",
  "encoding": {
   "x": {"field": "t", "type": "quantitative", "scale": {"domain": [107, 414], "nice": false, "zero": false}, "axis": {"title": null, "values": [120,160,200,240,280,320,360,400]}},
   "y": {"field": "y", "type": "quantitative", "scale": {"domain": [0.68, 0.92], "nice": false, "zero": false}, "axis": {"title": null, "labels": false, "values": [0.7,0.75,0.8,0.85,0.9]}}
  },
  "layer": [
   {"data": {"name": "p3"}, "transform": [{"filter": {"field": "s", "oneOf": ["max-sum-dev","max-sum-loss","max-sum-rate/FedCS"]}}], "mark": {"type": "line", "clip": true, "strokeWidth": 2.2},
    "encoding": {"color": {"field": "s", "type": "nominal"}}},
   {"data": {"name": "p3"}, "transform": [{"filter": {"field": "s", "oneOf": ["max-dev","max-loss"]}}], "mark": {"type": "line", "clip": true, "strokeWidth": 2.2, "strokeDash": [8, 4]},
    "encoding": {"color": {"field": "s", "type": "nominal"}}},
   {"data": {"name": "p3"}, "transform": [{"filter": {"field": "s", "oneOf": ["pow-d","random"]}}], "mark": {"type": "line", "clip": true, "strokeWidth": 2.2},
    "encoding": {"color": {"field": "s", "type": "nominal"}}},
   {"data": {"name": "refs"}, "mark": {"type": "rule", "color": "#000000", "strokeWidth": 2, "strokeDash": [19, 18.5]},
    "encoding": {"y": {"field": "y", "type": "quantitative"}}}
  ]}
]
}
